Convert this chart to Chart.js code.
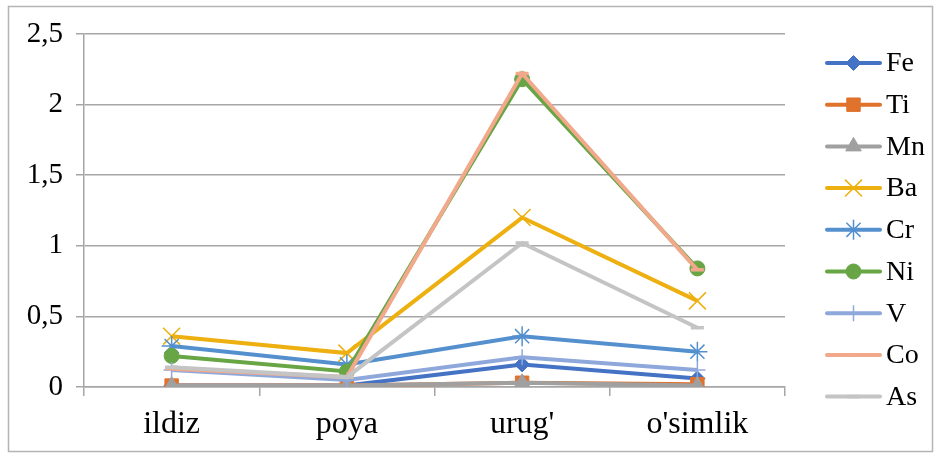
<!DOCTYPE html>
<html>
<head>
<meta charset="utf-8">
<script src="https://cdn.jsdelivr.net/npm/chart.js@4.4.1/dist/chart.umd.min.js"></script>
<style>
  html, body { margin: 0; padding: 0; background: #fff; }
  #wrap { width: 934px; height: 454px; position: relative; }
</style>
</head>
<body>
<div id="wrap"><canvas id="c" width="934" height="454"></canvas></div>
<script>
// Plant parts and element concentrations
const categories = ['ildiz', 'poya', "urug'", "o'simlik"];
const seriesNames = ['Fe', 'Ti', 'Mn', 'Ba', 'Cr', 'Ni', 'V', 'Co', 'As'];
const fe = [0.01, 0.01, 0.16, 0.06];
const ti = [0.01, 0.01, 0.03, 0.02];
const mn = [0.01, 0.01, 0.03, 0.01];
const ba = [0.36, 0.24, 1.2, 0.61];
const cr = [0.29, 0.16, 0.36, 0.25];
const ni = [0.22, 0.11, 2.18, 0.84];
const v  = [0.12, 0.05, 0.21, 0.12];
const co = [0.13, 0.07, 2.22, 0.83];
const as = [0.14, 0.07, 1.02, 0.42];
const yTicks = [0, 0.5, 1, 1.5, 2, 2.5];

const seriesValues = [fe, ti, mn, ba, cr, ni, v, co, as];
const colors = ['#4472C4', '#E0722C', '#A0A0A0', '#EDB010', '#5590CE', '#68A545', '#8FA8DC', '#F2A88A', '#C4C4C4'];
const markers = ['rectRot', 'rect', 'triangle', 'crossRot', 'star', 'circle', 'cross', 'line', 'line'];
const markerRadius = [7.5, 9.5, 9, 12, 10, 7.5, 8, 6.5, 6.5];
const markerBorder = [1, 1, 1, 1.5, 1.5, 1, 1.5, 3.5, 3.5];

const FONT = '"Liberation Serif", "Times New Roman", serif';

const datasets = seriesNames.map((name, i) => {
  const filled = ['rectRot', 'rect', 'triangle', 'circle'].includes(markers[i]);
  return {
    label: name,
    data: seriesValues[i],
    borderColor: colors[i],
    backgroundColor: colors[i],
    borderWidth: 4,
    pointStyle: markers[i],
    pointRadius: markerRadius[i],
    pointHoverRadius: markerRadius[i],
    pointBorderWidth: markerBorder[i],
    pointBorderColor: colors[i],
    pointBackgroundColor: filled ? colors[i] : 'transparent',
    tension: 0,
    // later series are painted over earlier ones
    order: seriesNames.length - i
  };
});

// Grey frame around the whole chart
const framePlugin = {
  id: 'frame',
  beforeDraw(chart) {
    const ctx = chart.ctx;
    ctx.save();
    ctx.fillStyle = '#ffffff';
    ctx.fillRect(0, 0, chart.width, chart.height);
    ctx.strokeStyle = '#b4b4b4';
    ctx.lineWidth = 1.5;
    ctx.strokeRect(8.5, 6.5, chart.width - 10, chart.height - 9);
    ctx.restore();
  }
};

// Legend with line + marker swatches on the right
const sideLegend = {
  id: 'sideLegend',
  afterDraw(chart) {
    const ctx = chart.ctx;
    const x0 = 827, x1 = 880, top = 63, step = 41.7;
    ctx.save();
    chart.data.datasets.forEach((ds, i) => {
      const y = top + i * step;
      ctx.beginPath();
      ctx.strokeStyle = ds.borderColor;
      ctx.lineWidth = ds.borderWidth;
      ctx.lineCap = 'round';
      ctx.moveTo(x0, y);
      ctx.lineTo(x1, y);
      ctx.stroke();
      const pt = chart.getDatasetMeta(i).data[0];
      if (pt && Chart.helpers && Chart.helpers.drawPoint) {
        ctx.save();
        ctx.lineCap = 'butt';
        ctx.strokeStyle = ds.pointBorderColor;
        ctx.fillStyle = ds.pointBackgroundColor;
        ctx.lineWidth = ds.pointBorderWidth;
        Chart.helpers.drawPoint(ctx, pt.options, (x0 + x1) / 2, y);
        ctx.restore();
      }
      ctx.fillStyle = '#000';
      ctx.font = '28px ' + FONT;
      ctx.textBaseline = 'middle';
      ctx.textAlign = 'left';
      ctx.fillText(ds.label, 886, y + 1);
    });
    ctx.restore();
  }
};

new Chart(document.getElementById('c'), {
  type: 'line',
  data: { labels: categories, datasets },
  options: {
    responsive: false,
    animation: false,
    events: [],
    layout: { padding: { left: 8, right: 149, top: 34, bottom: 0 } },
    plugins: { legend: { display: false }, tooltip: { enabled: false } },
    scales: {
      x: {
        offset: true,
        grid: {
          offset: true,
          drawOnChartArea: false,
          drawTicks: true,
          tickLength: 9,
          color: '#a6a6a6',
          lineWidth: 1.5
        },
        border: { color: '#a6a6a6', width: 1.5 },
        ticks: {
          color: '#000',
          font: { family: FONT, size: 32 },
          padding: 9,
          maxRotation: 0
        },
        afterFit(scale) { scale.height = 67; }
      },
      y: {
        min: 0,
        max: 2.5,
        afterBuildTicks(scale) { scale.ticks = yTicks.map(value => ({ value })); },
        grid: {
          color: '#a6a6a6',
          lineWidth: 1.5,
          drawTicks: true,
          tickLength: 8
        },
        border: { color: '#a6a6a6', width: 1.5 },
        ticks: {
          color: '#000',
          font: { family: FONT, size: 29 },
          padding: 13,
          callback: v => String(v).replace('.', ',')
        },
        afterFit(scale) { scale.width = 76; }
      }
    }
  },
  plugins: [framePlugin, sideLegend]
});
</script>
</body>
</html>
